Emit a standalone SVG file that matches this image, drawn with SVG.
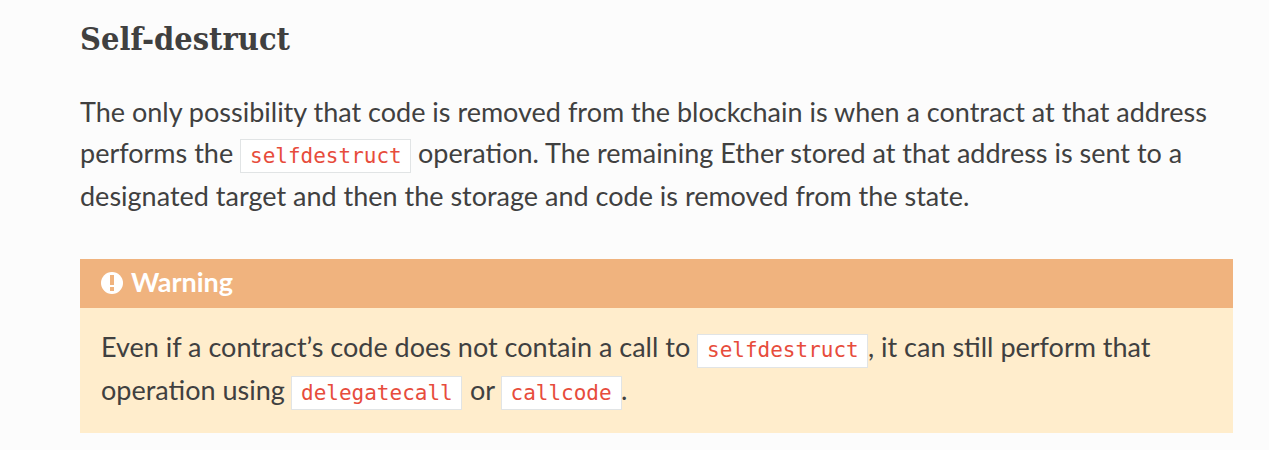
<svg xmlns="http://www.w3.org/2000/svg" width="1269" height="450" viewBox="0 0 1269 450">
<style>
.b{font-family:Lato,"Liberation Sans",sans-serif;font-size:27px;fill:#404040}
.c{font-family:"DejaVu Sans Mono","Liberation Mono",monospace;font-size:21px;fill:#e74c3c}
.k{fill:#fff;stroke:#e1e4e5;stroke-width:1}
</style>
<rect width="1269" height="450" fill="#fcfcfc"/>
<text x="80" y="50" font-family="DejaVu Serif,serif" font-weight="700" font-size="32" fill="#404040" textLength="210" lengthAdjust="spacingAndGlyphs">Self-destruct</text>
<text class="b" x="80" y="122">The only possibility that code is removed from the blockchain is when a contract at that address</text>
<text class="b" x="80" y="163">performs the</text>
<rect class="k" x="240.500" y="139.500" width="170" height="33"/>
<text class="c" x="250" y="163">selfdestruct</text>
<text class="b" x="418" y="163">operation. The remaining Ether stored at that address is sent to a</text>
<text class="b" x="80" y="206">designated target and then the storage and code is removed from the state.</text>
<rect x="80" y="259" width="1153" height="174" fill="#ffedcc"/>
<rect x="80" y="259" width="1153" height="49" fill="#f0b37e"/>
<circle cx="112" cy="283" r="11" fill="#fff"/>
<rect x="110" y="275" width="4" height="10" fill="#f0b37e"/>
<rect x="110" y="287" width="4" height="4" fill="#f0b37e"/>
<text x="131" y="292" font-family="Lato,sans-serif" font-weight="700" font-size="27" fill="#fff">Warning</text>
<text class="b" x="101" y="357">Even if a contract’s code does not contain a call to</text>
<rect class="k" x="697.500" y="334.500" width="170" height="33"/>
<text class="c" x="707" y="357">selfdestruct</text>
<text class="b" x="868" y="357">, it can still perform that</text>
<text class="b" x="101" y="400">operation using</text>
<rect class="k" x="291.500" y="376.500" width="170" height="33"/>
<text class="c" x="301" y="400">delegatecall</text>
<text class="b" x="470" y="400">or</text>
<rect class="k" x="501.500" y="376.500" width="120" height="33"/>
<text class="c" x="510.500" y="400">callcode</text>
<text class="b" x="621" y="400">.</text>
</svg>
